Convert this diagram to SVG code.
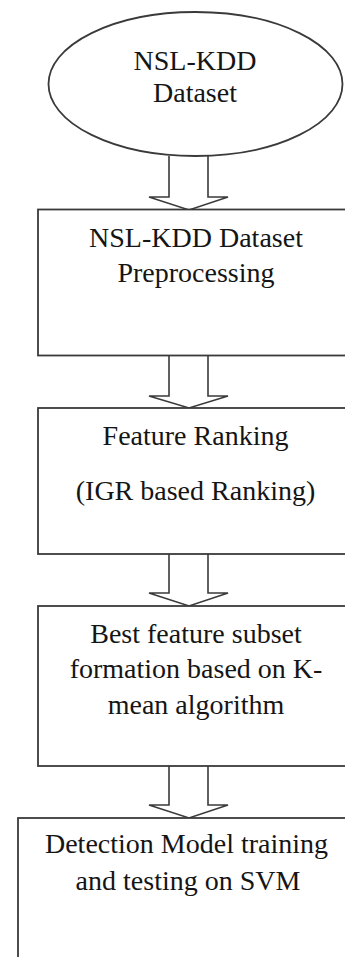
<svg xmlns="http://www.w3.org/2000/svg" width="345" height="957" viewBox="0 0 345 957">
<style>
.n{fill:#fff;stroke:#3a3a3a;stroke-width:1.8}
.t{font-family:"Liberation Serif","Times New Roman",serif;font-size:28px;fill:#151515;text-anchor:middle}
.a{fill:#fff;stroke:#3a3a3a;stroke-width:1.6;stroke-linejoin:miter}
</style>
<rect width="345" height="957" fill="#fff"/>
<g id="connectors">
<path class="a" d="M169,156 L169,197 L149,197 L189,210 L228,197 L208,197 L208,156"/>
<path class="a" d="M169,356 L169,396 L149,396 L189,408 L228,396 L208,396 L208,356"/>
<path class="a" d="M169,554 L169,593 L149,593 L189,606 L228,593 L208,593 L208,554"/>
<path class="a" d="M169,766 L169,805 L149,805 L189,818 L228,805 L208,805 L208,766"/>
</g>
<g id="n0">
<ellipse class="n" cx="195.5" cy="84" rx="147" ry="72" stroke-width="1.4"/>
<text class="t" x="195" y="70">NSL-KDD</text>
<text class="t" x="195" y="102">Dataset</text>
</g>
<g id="n1">
<rect class="n" x="38" y="209.5" width="330" height="146"/>
<text class="t" x="196" y="247">NSL-KDD Dataset</text>
<text class="t" x="196" y="282">Preprocessing</text>
</g>
<g id="n2">
<rect class="n" x="38" y="408" width="330" height="146"/>
<text class="t" x="195.5" y="445">Feature Ranking</text>
<text class="t" x="195.5" y="500">(IGR based Ranking)</text>
</g>
<g id="n3">
<rect class="n" x="38" y="606" width="330" height="160"/>
<text class="t" x="196" y="643">Best feature subset</text>
<text class="t" x="196" y="678">formation based on K-</text>
<text class="t" x="196" y="714">mean algorithm</text>
</g>
<g id="n4">
<rect class="n" x="18" y="818" width="360" height="160"/>
<text class="t" x="186.5" y="853">Detection Model training</text>
<text class="t" x="188" y="890">and testing on SVM</text>
</g>
</svg>
